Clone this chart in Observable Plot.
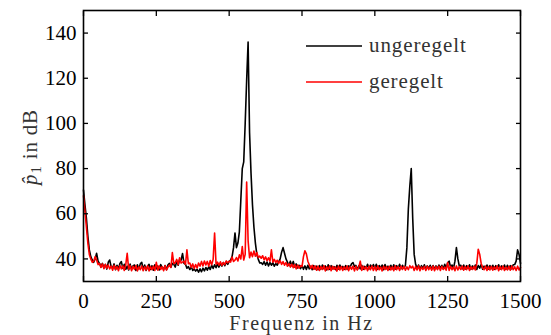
<!DOCTYPE html>
<html><head><meta charset="utf-8">
<script src="https://cdn.jsdelivr.net/npm/d3@7"></script>
<script src="https://cdn.jsdelivr.net/npm/@observablehq/plot@0.6"></script>
<style>
body{margin:0;background:#fff;}
#chart svg{display:block;}
#chart svg text, #chart svg tspan { font-family: "Liberation Serif", "Times New Roman", "DejaVu Serif", serif !important; }
</style>
</head><body><div id="chart"></div>
<script>
// sampling grid (Hz), one value every 5 Hz
const freqHz = d3.range(0, 1501, 5);
const xTicks = [0, 250, 500, 750, 1000, 1250, 1500];
const yTicks = [40, 60, 80, 100, 120, 140];
const seriesNames = ["ungeregelt", "geregelt"];
const seriesColors = ["#000000", "#ff0000"];

const ungeregelt = [
70.5,64,58,50,44,41,39.5,38.5,40,42.5,39,38,36.5,38,36,37.5,35.5,38.5,39.5,36.5,
36,37.8,35.2,37.2,35.6,38,38.8,35.8,37.6,35.4,36.8,35.1,37.7,35.5,36.9,37.3,34.9,37.4,35.6,37.8,
38.5,35.2,37.3,34.9,36.8,37.6,35.3,37,35,37.4,35.6,36.9,35.1,37.5,36.2,35.4,37.1,35.2,37.4,38,
36.3,38,37.6,36.4,39,37.2,39.8,39.5,42.4,38,37.6,35.9,36.6,35.3,36.5,34.9,35.5,34.6,35.4,34.1,
35.6,34.3,35.9,34.7,36.2,35,36.6,35.3,37.2,35.8,37.4,36.1,37.8,36.4,38,36.8,38.4,37,38.7,37.6,
38.9,39.5,41,45,51.5,45,47,52,66,80,83,100,119,136,96,78,64,54,47,42,
39.8,38.2,38.3,37.6,38.8,37.2,38.6,36.9,38.4,37.2,38.3,36.8,37.9,37.2,38.7,40,43,45,42.5,40,
38.6,37.1,39,37,38.9,36.4,37.8,36,37.2,35.7,37.1,35.4,36.9,35.3,37.2,35.6,36.8,35.2,37.1,35.5,
36.8,35.2,37.1,35.5,37.3,35.7,36.9,35.1,37.4,35.4,37,35.6,36.6,35.2,37.2,35.5,37.3,35.8,36.7,35.4,
37.1,35.5,36.9,36.4,37.8,38.4,36.6,37.1,35.3,36.9,35.6,37.2,35.4,36.7,35.9,37.6,35.5,37.3,36.2,37.5,
35.8,37.6,35.4,37.1,35.9,37.3,35.2,37.5,35.7,36.8,35.3,37.2,35.6,37.4,35.5,37,36,37.6,35.7,37.2,
35.9,37.2,45,62,72,80,58,42,37.6,35.8,37.3,35.4,37,35.7,37.4,35.3,36.9,35.8,37.2,35.5,
37.1,35.4,36.9,35.6,37.3,35.9,37.2,35.5,37.6,35.8,38.3,39,36.4,37.3,35.8,39,45,40,36.8,37.2,
35.6,37.3,35.5,37,35.8,37.4,35.4,36.9,35.7,37.3,35.3,37.1,35.9,37.5,35.4,36.8,35.8,37.3,35.5,37.1,
35.7,37.2,35.4,37,35.9,37.4,35.5,36.9,35.8,37.3,35.4,37.2,35.7,37,35.6,37.4,37.5,39,44,42,
38
];

const geregelt = [
68,61,54,47,42,40,38.5,39,41,39.5,37.5,38,36.2,37.8,35.7,37.6,35.9,37.3,35.6,36.8,
35,37.2,35.4,36.6,34.8,37.1,35.6,36.9,34.9,37.4,42.5,35.5,37,34.8,36.7,35.3,37.1,34.7,36.5,35.2,
36.9,34.8,36.5,35.1,37,34.7,36.6,35.2,36.8,34.9,38.5,35,36.9,35.3,36.6,34.8,37,35.1,36.4,37.3,
36.2,42.8,37.9,38.3,39.8,37.5,40.5,38.2,38.6,39,37.6,44,37.9,38.2,36.2,37.8,35.8,37.5,36,38.2,
36.8,38.9,36.9,39.1,37.3,38.9,36.8,39.3,37.4,39.8,51.5,37.6,38.6,37.2,38.7,37.1,38.4,37.5,39.1,38.3,
39,38.6,40.8,38.9,39.5,40.6,39.1,41.8,40,45.5,39.5,42,74,48,40.5,43,41,43.5,41.2,42.8,
40.6,41.2,40.3,41.4,39.6,40.9,39.2,40.5,39,44,38.6,39.8,38.4,39.4,38,39.2,37.6,38.8,37.2,38.4,
36.8,37.9,36.4,37.7,36.1,37.5,35.6,37.3,35.9,37,36.6,41,43.6,42.2,39,37.4,35.8,37.2,35.4,36.9,
35,36.8,34.9,36.6,35.3,37,34.7,36.5,35.2,36.9,34.8,36.7,35.4,36.4,34.6,36.8,35.1,36.6,34.9,36.5,
35.2,36.9,34.8,36.6,35.4,36.8,34.7,36.7,35.1,36.4,39,34.9,36.8,35.3,36.5,34.8,36.7,35.2,36.9,34.9,
36.6,34.8,36.9,35.2,36.4,34.7,36.8,35.3,36.6,34.9,36.7,35.1,36.5,34.8,37,35.2,36.6,34.9,36.8,35.3,
36.7,35,36.5,35.2,37,36,36.8,34.9,36.6,35.1,36.9,34.8,36.4,35.3,36.7,34.9,36.8,35.2,36.5,35,
36.9,34.8,36.6,35.2,36.8,34.9,36.7,35.3,36.4,35,38.4,34.9,36.7,35.2,36.5,34.8,36.9,35.1,36.6,35.3,
36.8,35,36.6,35.2,36.9,34.9,36.5,35.3,36.7,35.1,38,44.3,42,38,36.1,35.2,36.8,34.9,36.6,35.1,
36.7,35,36.5,35.3,36.9,34.8,36.6,35.2,36.8,34.9,36.4,35.1,36.7,35,36.9,35.2,36.5,34.9,36.8,35.1,
36.2
];

const rowsBlack = freqHz.map((f, i) => ({f, v: ungeregelt[i]}));
const rowsRed = freqHz.map((f, i) => ({f, v: geregelt[i]}));

const FONT = "Liberation Serif";
const fmt = d => String(d);

const chart = Plot.plot({
  width: 551,
  height: 335,
  marginTop: 10,
  marginBottom: 54,
  marginLeft: 83,
  marginRight: 31,
  style: {fontFamily: FONT, fontSize: "21px", background: "#fff", color: "#000"},
  x: {domain: [0, 1500]},
  y: {domain: [30, 150]},
  marks: [
    Plot.lineY(rowsBlack, {x: "f", y: "v", stroke: seriesColors[0], strokeWidth: 1.6}),
    Plot.lineY(rowsRed, {x: "f", y: "v", stroke: seriesColors[1], strokeWidth: 1.6}),
    Plot.axisX(xTicks, {anchor: "bottom", tickSize: 0, tickPadding: 11.5, fontSize: 21, tickFormat: fmt, label: null}),
    Plot.axisX(xTicks, {anchor: "bottom", tickSize: -5, tickFormat: () => "", label: null, strokeWidth: 1.3}),
    Plot.axisX(xTicks, {anchor: "top", tickSize: -5, tickFormat: () => "", label: null, strokeWidth: 1.3}),
    Plot.axisY(yTicks, {anchor: "left", tickSize: 0, tickPadding: 7, fontSize: 21, tickFormat: fmt, label: null}),
    Plot.axisY(yTicks, {anchor: "left", tickSize: -5, tickFormat: () => "", label: null, strokeWidth: 1.3}),
    Plot.axisY(yTicks, {anchor: "right", tickSize: -5, tickFormat: () => "", label: null, strokeWidth: 1.3}),
    Plot.frame({stroke: "#000", strokeWidth: 1.6})
  ]
});

document.getElementById("chart").appendChild(chart);

const svg = d3.select(chart);
// x axis label
svg.append("text")
  .attr("x", 301.5).attr("y", 330)
  .attr("text-anchor", "middle")
  .attr("font-size", 20)
  .attr("fill", "#333")
  .attr("letter-spacing", "1.5px")
  .text("Frequenz in Hz");

// y axis label with italic hat-p and subscript
const yl = svg.append("text")
  .attr("transform", "translate(37,147) rotate(-90)")
  .attr("text-anchor", "middle")
  .attr("font-size", 21)
  .attr("fill", "#333")
  .attr("letter-spacing", "0.8px");
yl.append("tspan").attr("font-style", "italic").text("p\u0302");
yl.append("tspan").attr("font-size", 15).attr("dy", 4).text("1");
yl.append("tspan").attr("dy", -4).text(" in dB");

// legend
const lg = svg.append("g").attr("font-size", 21).attr("fill", "#333").attr("text-anchor", "start");
seriesNames.forEach((name, i) => {
  const yy = 46 + i * 36;
  lg.append("line").attr("x1", 306).attr("x2", 362).attr("y1", yy).attr("y2", yy)
    .attr("stroke", seriesColors[i]).attr("stroke-width", 1.6);
  lg.append("text").attr("x", 369).attr("y", yy + 6).attr("text-anchor", "start")
    .attr("letter-spacing", "0.9px").text(name);
});
</script>
</body></html>
